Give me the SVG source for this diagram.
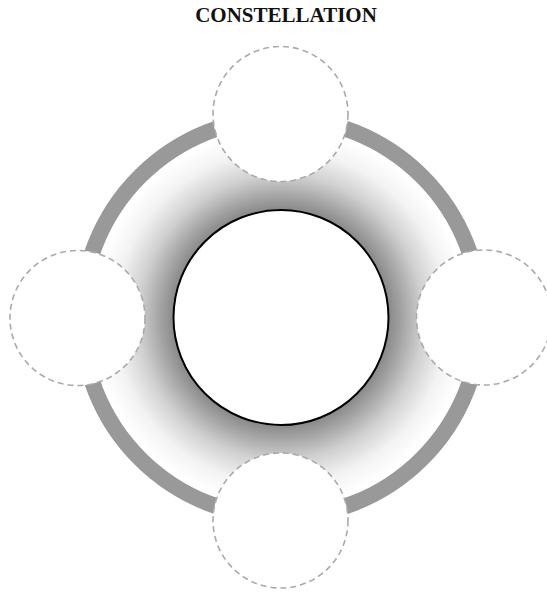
<svg xmlns="http://www.w3.org/2000/svg" width="547" height="592" viewBox="0 0 547 592">
<defs>
<radialGradient id="glow" cx="281" cy="317.5" r="192" gradientUnits="userSpaceOnUse">
<stop offset="0.55" stop-color="#858585"/>
<stop offset="0.63" stop-color="#a4a4a4"/>
<stop offset="0.74" stop-color="#d0d0d0"/>
<stop offset="0.87" stop-color="#f3f3f3"/>
<stop offset="0.98" stop-color="#ffffff"/>
</radialGradient>
<style>
.title{font-family:"Liberation Serif","Times New Roman",serif;font-weight:bold;font-size:21px;fill:#111;text-anchor:middle}
.sat{fill:#fff;stroke:#aaaaaa;stroke-width:1.6;stroke-dasharray:6 4}
</style>
</defs>
<rect width="547" height="592" fill="#fff"/>
<text class="title" x="286" y="22">CONSTELLATION</text>
<g id="ring">
<circle cx="281" cy="317.5" r="192" fill="url(#glow)"/>
<circle cx="281" cy="317.5" r="199.5" fill="none" stroke="#999999" stroke-width="16"/>
</g>
<g id="connectors"></g>
<g id="center">
<circle cx="281" cy="317.5" r="107.5" fill="#fff" stroke="#000" stroke-width="2"/>
</g>
<g id="node-top"><circle class="sat" cx="280.5" cy="114" r="67.5"/></g>
<g id="node-left"><circle class="sat" cx="77.5" cy="318" r="67.5"/></g>
<g id="node-right"><circle class="sat" cx="484" cy="317.5" r="67.5"/></g>
<g id="node-bottom"><circle class="sat" cx="280.5" cy="520.5" r="67.5"/></g>
</svg>
